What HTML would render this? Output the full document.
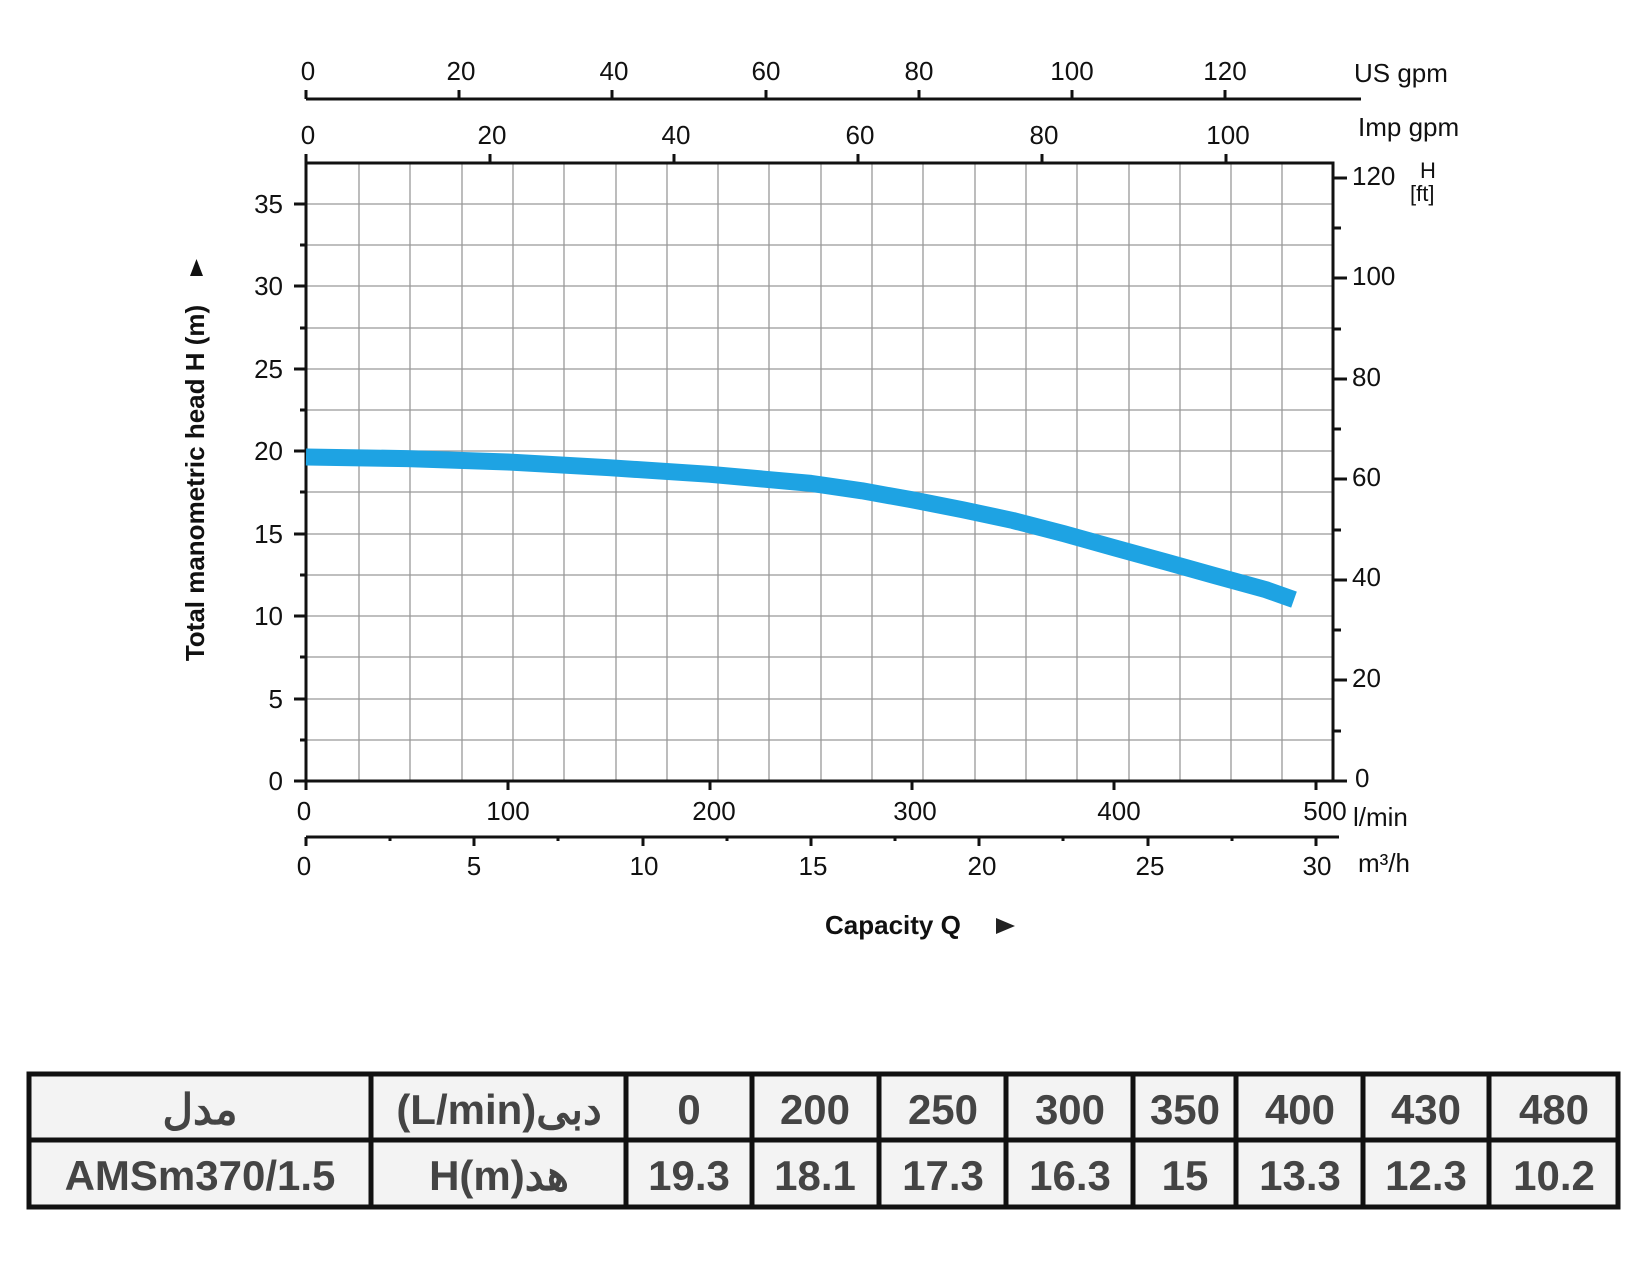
<!DOCTYPE html>
<html><head><meta charset="utf-8"><style>
body{margin:0;background:#fff}
svg{display:block}
.t{font-family:"Liberation Sans",sans-serif;font-size:26px;fill:#111}
.c{font-family:"Liberation Sans","Noto Sans CJK SC",sans-serif;font-size:42px;fill:#444;font-weight:bold}
</style></head><body>
<svg width="1649" height="1261" viewBox="0 0 1649 1261" xmlns="http://www.w3.org/2000/svg">
<rect width="1649" height="1261" fill="#fff"/>
<g stroke="#999" stroke-width="1.3">
<path d="M359 163V781M410 163V781M462 163V781M513 163V781M564 163V781M616 163V781M667 163V781M718 163V781M769 163V781M821 163V781M872 163V781M923 163V781M975 163V781M1026 163V781M1077 163V781M1129 163V781M1180 163V781M1231 163V781M1282 163V781"/>
<path d="M306 740H1333M306 699H1333M306 657H1333M306 616H1333M306 575H1333M306 534H1333M306 492H1333M306 451H1333M306 410H1333M306 369H1333M306 328H1333M306 286H1333M306 245H1333M306 204H1333"/>
</g>
<g stroke="#111" stroke-width="3" fill="none">
<rect x="306" y="163" width="1027" height="618"/>
<path d="M294 781H306M300 740H306M294 699H306M300 657H306M294 616H306M300 575H306M294 534H306M300 492H306M294 451H306M300 410H306M294 369H306M300 328H306M294 286H306M300 245H306M294 204H306"/>
<path d="M1333 781H1347M1333 731H1341M1333 680H1347M1333 630H1341M1333 580H1347M1333 530H1341M1333 479H1347M1333 429H1341M1333 379H1347M1333 329H1341M1333 278H1347M1333 228H1341M1333 178H1347"/>
<path d="M306 163V154M490 163V154M674 163V154M858 163V154M1042 163V154M1226 163V154"/>
<path d="M306 99H1361M306 99V90M459 99V90M612 99V90M766 99V90M919 99V90M1072 99V90M1225 99V90"/>
<path d="M306 781V790M508 781V790M710 781V790M912 781V790M1114 781V790M1316 781V790"/>
<path d="M306 837H1339M306 837V846M474 837V846M643 837V846M811 837V846M979 837V846M1148 837V846M1316 837V846M390 837V841M558 837V841M727 837V841M895 837V841M1063 837V841M1232 837V841"/>
</g>
<polyline points="306,457 407,458.6 508,462 609,467.7 710,474.3 811,483.4 862,490.8 912,499.8 963,509.8 1013,520.5 1064,533.7 1114,547.7 1165,561.7 1215,575.7 1266,589.7 1294,599.6" stroke="#1ea3e3" stroke-width="17" fill="none" stroke-linejoin="round"/>
<g class="t" text-anchor="end">
<text x="283" y="790">0</text><text x="283" y="708">5</text><text x="283" y="625">10</text><text x="283" y="543">15</text><text x="283" y="460">20</text><text x="283" y="378">25</text><text x="283" y="295">30</text><text x="283" y="213">35</text>
</g>
<g class="t">
<text x="1355" y="787">0</text><text x="1352" y="687">20</text><text x="1352" y="586">40</text><text x="1352" y="486">60</text><text x="1352" y="386">80</text><text x="1352" y="285">100</text><text x="1352" y="185">120</text>
<text x="1420" y="178" font-size="22">H</text><text x="1410" y="201" font-size="22">[ft]</text>
<text x="1354" y="82">US gpm</text><text x="1358" y="136">Imp gpm</text>
<text x="1353" y="826">l/min</text><text x="1358" y="872">m³/h</text>
</g>
<g class="t" text-anchor="middle">
<text x="308" y="80">0</text><text x="461" y="80">20</text><text x="614" y="80">40</text><text x="766" y="80">60</text><text x="919" y="80">80</text><text x="1072" y="80">100</text><text x="1225" y="80">120</text>
<text x="308" y="144">0</text><text x="492" y="144">20</text><text x="676" y="144">40</text><text x="860" y="144">60</text><text x="1044" y="144">80</text><text x="1228" y="144">100</text>
<text x="304" y="820">0</text><text x="508" y="820">100</text><text x="714" y="820">200</text><text x="915" y="820">300</text><text x="1119" y="820">400</text><text x="1325" y="820">500</text>
<text x="304" y="875">0</text><text x="474" y="875">5</text><text x="644" y="875">10</text><text x="813" y="875">15</text><text x="982" y="875">20</text><text x="1150" y="875">25</text><text x="1317" y="875">30</text>
</g>
<text class="t" transform="translate(204,483) rotate(-90)" text-anchor="middle" font-weight="bold" font-size="26">Total manometric head H (m)</text>
<path d="M190 276L203 276L196.5 259Z" fill="#111"/>
<text class="t" x="825" y="934" font-weight="bold" font-size="27">Capacity Q</text>
<path d="M996 918L1015 926L996 934Z" fill="#222"/>
<g>
<rect x="29" y="1074" width="1589" height="133" fill="#f3f3f3" stroke="#111" stroke-width="5"/>
<path d="M29 1140H1618M371 1074V1207M626 1074V1207M752 1074V1207M879 1074V1207M1006 1074V1207M1133 1074V1207M1236 1074V1207M1363 1074V1207M1489 1074V1207" stroke="#111" stroke-width="5"/>
</g>
<g class="c" text-anchor="middle">
<text x="200" y="1124">مدل</text><text x="499" y="1124">(L/min)دبی</text>
<text x="689" y="1124">0</text><text x="815" y="1124">200</text><text x="943" y="1124">250</text><text x="1070" y="1124">300</text><text x="1185" y="1124">350</text><text x="1300" y="1124">400</text><text x="1426" y="1124">430</text><text x="1554" y="1124">480</text>
<text x="200" y="1190">AMSm370/1.5</text><text x="499" y="1190">H(m)هد</text>
<text x="689" y="1190">19.3</text><text x="815" y="1190">18.1</text><text x="943" y="1190">17.3</text><text x="1070" y="1190">16.3</text><text x="1185" y="1190">15</text><text x="1300" y="1190">13.3</text><text x="1426" y="1190">12.3</text><text x="1554" y="1190">10.2</text>
</g>
</svg>
</body></html>
